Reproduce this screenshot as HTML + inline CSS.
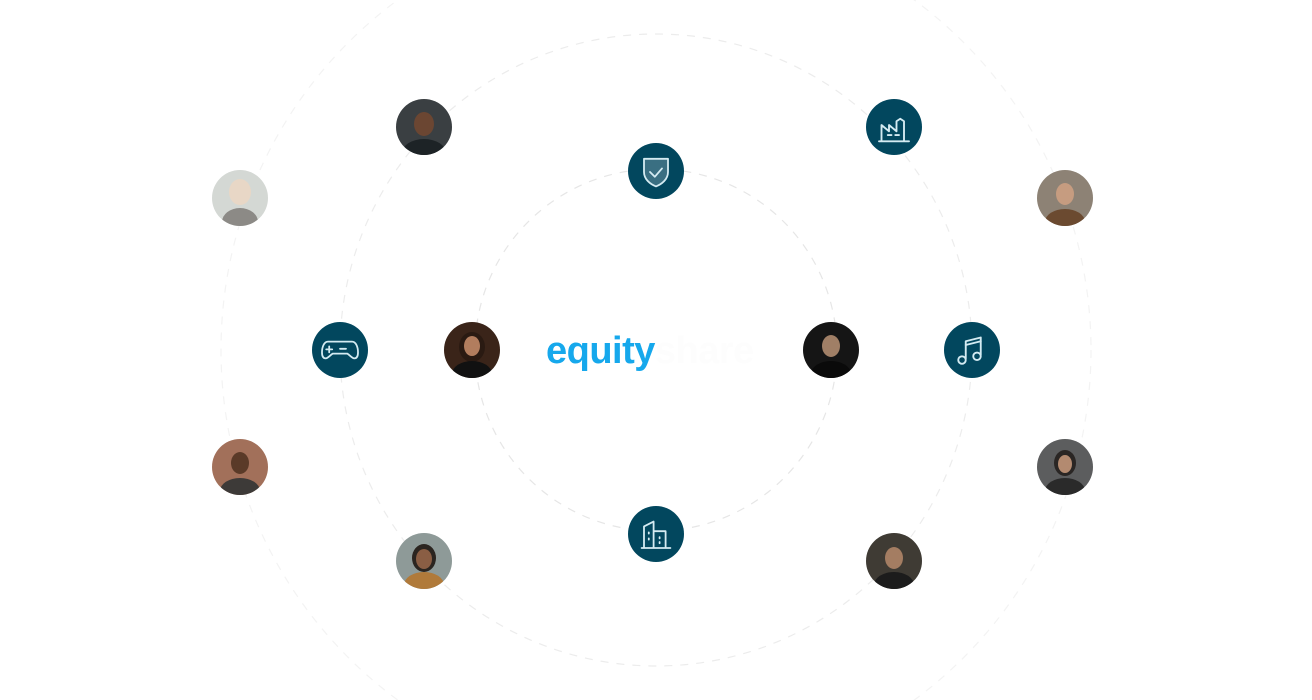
<!DOCTYPE html>
<html><head><meta charset="utf-8"><style>
html,body{margin:0;padding:0;background:#fff;width:1312px;height:700px;overflow:hidden}
svg{display:block}
</style></head><body>
<svg width="1312" height="700" viewBox="0 0 1312 700" xmlns="http://www.w3.org/2000/svg">
<g fill="none" stroke-dasharray="8 8" stroke-width="1.2">
<circle cx="656" cy="350" r="181" stroke="#e6e6e6"/>
<circle cx="656" cy="350" r="316" stroke="#ececec"/>
<circle cx="656" cy="350" r="435" stroke="#f3f3f3"/>
</g>
<text x="546" y="363" font-family="Liberation Sans, sans-serif" font-weight="bold" font-size="38" fill="#16a8ec" letter-spacing="-0.5">equity<tspan fill="#fdfdfd">share</tspan></text>
<g fill="#02475e">
<circle cx="656" cy="171" r="28"/><circle cx="894" cy="127" r="28"/><circle cx="340" cy="350" r="28"/><circle cx="972" cy="350" r="28"/><circle cx="656" cy="534" r="28"/>
</g>
<g fill="none" stroke="#d4ebf2" stroke-width="1.5" stroke-linejoin="round" stroke-linecap="round">
<g transform="translate(656,172) scale(1.2) translate(-656,-172)"><path d="M646 161h20v11c0 6-5 10-10 12c-5-2-10-6-10-12z" fill="#3a6f82"/><path d="M651 172l4 4l6-7"/></g>
<g transform="translate(894,130) scale(1.25) translate(-894,-130)"><path d="M882 139h24M884 139v-13l6 5v-5l6 5v-8l3-2l3 2v16M889 134h3M895 134h3"/></g>
<g transform="translate(340,350) scale(1.2) translate(-340,-350)"><path d="M330 343h20c3 0 5 4 5 9c0 3-1 5-3 5c-2 0-4-3-6-4h-12c-2 1-4 4-6 4c-2 0-3-2-3-5c0-5 2-9 5-9zM331 347v5M328.5 349.5h5M340 349h5"/></g>
<g transform="translate(972,350) scale(1.25) translate(-972,-350)"><path d="M967 357v-14l12-3v14"/><circle cx="964" cy="358" r="3"/><circle cx="976" cy="355" r="3"/><path d="M967 346l12-3"/></g>
<g transform="translate(656,536) scale(1.2) translate(-656,-536)"><path d="M644 546h24M646 546v-18l8-4v22M654 532h10v14M650 533v1M650 538v1M659 537v1M659 541v1"/></g>
</g>
<defs><clipPath id="c"><circle r="28"/></clipPath></defs>
<g>
<g transform="translate(424,127)" clip-path="url(#c)"><rect x="-28" y="-28" width="56" height="56" fill="#3a3f42"/><ellipse cy="-3" rx="10" ry="12" fill="#6b4632"/><ellipse cy="26" rx="22" ry="14" fill="#1d2326"/></g>
<g transform="translate(240,198)" clip-path="url(#c)"><rect x="-28" y="-28" width="56" height="56" fill="#d4d8d4"/><ellipse cy="-6" rx="11" ry="13" fill="#e8d7c6"/><ellipse cy="24" rx="18" ry="14" fill="#8c8a86"/></g>
<g transform="translate(472,350)" clip-path="url(#c)"><rect x="-28" y="-28" width="56" height="56" fill="#3a2419"/><ellipse cy="-3" rx="13" ry="15" fill="#2a1a12"/><ellipse cy="-4" rx="8" ry="10" fill="#b27d5e"/><ellipse cy="24" rx="20" ry="13" fill="#111"/></g>
<g transform="translate(831,350)" clip-path="url(#c)"><rect x="-28" y="-28" width="56" height="56" fill="#151515"/><ellipse cy="-4" rx="9" ry="11" fill="#a07f66"/><ellipse cy="24" rx="20" ry="13" fill="#0a0a0a"/></g>
<g transform="translate(1065,198)" clip-path="url(#c)"><rect x="-28" y="-28" width="56" height="56" fill="#8d8275"/><ellipse cy="-4" rx="9" ry="11" fill="#c69c80"/><ellipse cy="24" rx="20" ry="13" fill="#6b4a30"/></g>
<g transform="translate(240,467)" clip-path="url(#c)"><rect x="-28" y="-28" width="56" height="56" fill="#a2705a"/><ellipse cy="-4" rx="9" ry="11" fill="#5a3a28"/><ellipse cy="24" rx="20" ry="13" fill="#3d3a38"/></g>
<g transform="translate(424,561)" clip-path="url(#c)"><rect x="-28" y="-28" width="56" height="56" fill="#8e9a98"/><ellipse cy="-3" rx="12" ry="14" fill="#2b2520"/><ellipse cy="-2" rx="8" ry="10" fill="#8a5e44"/><ellipse cy="24" rx="20" ry="13" fill="#b07a3a"/></g>
<g transform="translate(1065,467)" clip-path="url(#c)"><rect x="-28" y="-28" width="56" height="56" fill="#5c5d5e"/><ellipse cy="-4" rx="11" ry="13" fill="#2a2624"/><ellipse cy="-3" rx="7" ry="9" fill="#b38a70"/><ellipse cy="24" rx="20" ry="13" fill="#2a2a2a"/></g>
<g transform="translate(894,561)" clip-path="url(#c)"><rect x="-28" y="-28" width="56" height="56" fill="#3f3b34"/><ellipse cy="-3" rx="9" ry="11" fill="#a47d62"/><ellipse cy="24" rx="20" ry="13" fill="#1c1c1c"/></g>
</g>
</svg>
</body></html>
